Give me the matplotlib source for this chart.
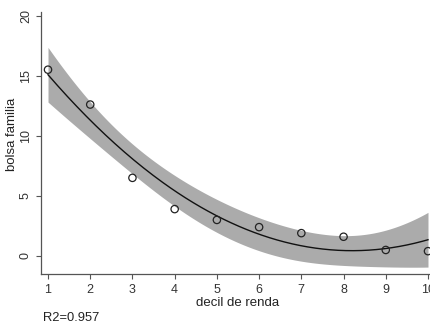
import numpy as np
import matplotlib
matplotlib.use("Agg")
import matplotlib.pyplot as plt

plt.rcParams["font.family"] = ["Liberation Sans", "DejaVu Sans"]

decil = np.array([1, 2, 3, 4, 5, 6, 7, 8, 9, 10])
bolsa = np.array([15.5, 12.6, 6.5, 3.9, 3.0, 2.4, 1.9, 1.6, 0.5, 0.4])

# quadratic fit with 95% CI of the prediction (like Stata qfitci)
X = np.column_stack([np.ones_like(decil, dtype=float), decil, decil ** 2])
beta, *_ = np.linalg.lstsq(X, bolsa, rcond=None)
resid = bolsa - X @ beta
n, k = X.shape
s2 = resid @ resid / (n - k)
cov = s2 * np.linalg.inv(X.T @ X)
xs = np.linspace(1, 10, 200)
Xs = np.column_stack([np.ones_like(xs), xs, xs ** 2])
yhat = Xs @ beta
se = np.sqrt(np.einsum("ij,jk,ik->i", Xs, cov, Xs))
tcrit = 2.365  # t(0.975, 7)
r2 = 1 - (resid @ resid) / np.sum((bolsa - bolsa.mean()) ** 2)

fig = plt.figure(figsize=(4.3, 3.24), dpi=100)
ax = fig.add_axes([41 / 430, 50 / 324, 394 / 430, 262 / 324])

ax.fill_between(xs, yhat - tcrit * se, yhat + tcrit * se, color="#ababab", lw=0)
ax.plot(xs, yhat, color="#111111", lw=1)
ax.scatter(decil, bolsa, s=28, facecolors="none", edgecolors="#222222", linewidths=0.9, zorder=3)

ax.set_xlim(0.834, 10.166)
ax.set_ylim(-1.5, 20.3)
ax.set_xticks(range(1, 11))
ax.set_yticks([0, 5, 10, 15, 20])
for side in ["top", "right"]:
    ax.spines[side].set_visible(False)
for side in ["left", "bottom"]:
    ax.spines[side].set_color("#555555")
    ax.spines[side].set_linewidth(0.9)
ax.tick_params(colors="#555555", labelcolor="#333333", labelsize=9, length=3.5, width=0.8)
ax.tick_params(axis="x", pad=4)
ax.tick_params(axis="y", pad=3)
plt.setp(ax.get_yticklabels(), rotation=90, va="center")
ax.set_xlabel("decil de renda", fontsize=9.5, color="#222222")
ax.xaxis.set_label_coords((238 - 41) / 394, -23 / 262)
ax.set_ylabel("bolsa familia", fontsize=9.5, color="#222222")
ax.yaxis.set_label_coords(-23 / 394, (274 - 134) / 262)

fig.text(43 / 430, 1 - 318 / 324, "R2=%.3f" % r2, fontsize=9.3, color="#222222", va="center")

fig.savefig("out.png", dpi=100)
